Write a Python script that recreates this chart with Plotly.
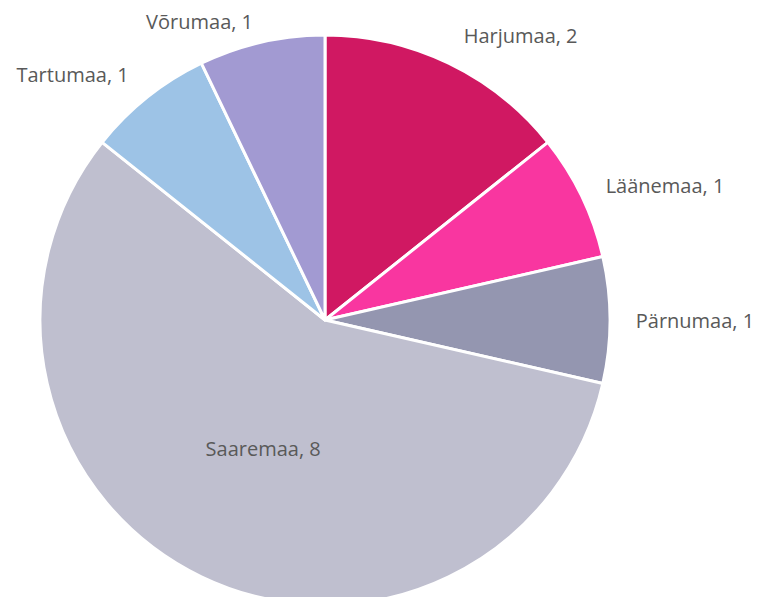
import plotly.graph_objects as go

labels = ["Harjumaa", "Läänemaa", "Pärnumaa", "Saaremaa", "Tartumaa", "Võrumaa"]
values = [2, 1, 1, 8, 1, 1]
colors = ["#D01862", "#F936A0", "#9496B0", "#BFBFCF", "#9DC3E6", "#A29AD2"]

label_texts = [f"{l}, {v}" for l, v in zip(labels, values)]

W, H = 761, 640
cx, cy, r = 325, 320, 285

font = dict(family="Open Sans, sans-serif", size=20, color="#595959")


def dom(rad):
    return dict(x=[(cx - rad) / W, (cx + rad) / W],
                y=[(H - cy - rad) / H, (H - cy + rad) / H])


def only(names):
    return [t if l in names else "" for t, l in zip(label_texts, labels)]


fig = go.Figure()
fig.add_trace(go.Pie(
    labels=labels,
    values=values,
    sort=False,
    direction="clockwise",
    rotation=0,
    marker=dict(colors=colors, line=dict(color="white", width=3)),
    text=only({"Saaremaa"}),
    textinfo="text",
    textposition="inside",
    insidetextorientation="horizontal",
    textfont=font,
    hoverinfo="label+value",
    domain=dom(r),
    showlegend=False,
))

# transparent copies of the pie, used only to place the outside labels a
# little further from the edge (as the original chart does)
for rad, names in [(304, {"Harjumaa", "Läänemaa", "Pärnumaa", "Tartumaa"}),
                   (293, {"Võrumaa"})]:
    fig.add_trace(go.Pie(
        labels=labels,
        values=values,
        sort=False,
        direction="clockwise",
        rotation=0,
        marker=dict(colors=["rgba(0,0,0,0)"] * len(labels), line=dict(width=0)),
        text=only(names),
        textinfo="text",
        textposition="outside",
        textfont=font,
        hoverinfo="skip",
        domain=dom(rad),
        showlegend=False,
    ))

fig.update_layout(
    width=W, height=H, autosize=False,
    margin=dict(l=0, r=0, t=0, b=0, autoexpand=False),
    paper_bgcolor="white", plot_bgcolor="white",
)

fig.write_html("out.html", config={"displayModeBar": False},
               post_script="document.body.style.margin='0';document.body.style.overflow='hidden';document.documentElement.style.overflow='hidden';")
